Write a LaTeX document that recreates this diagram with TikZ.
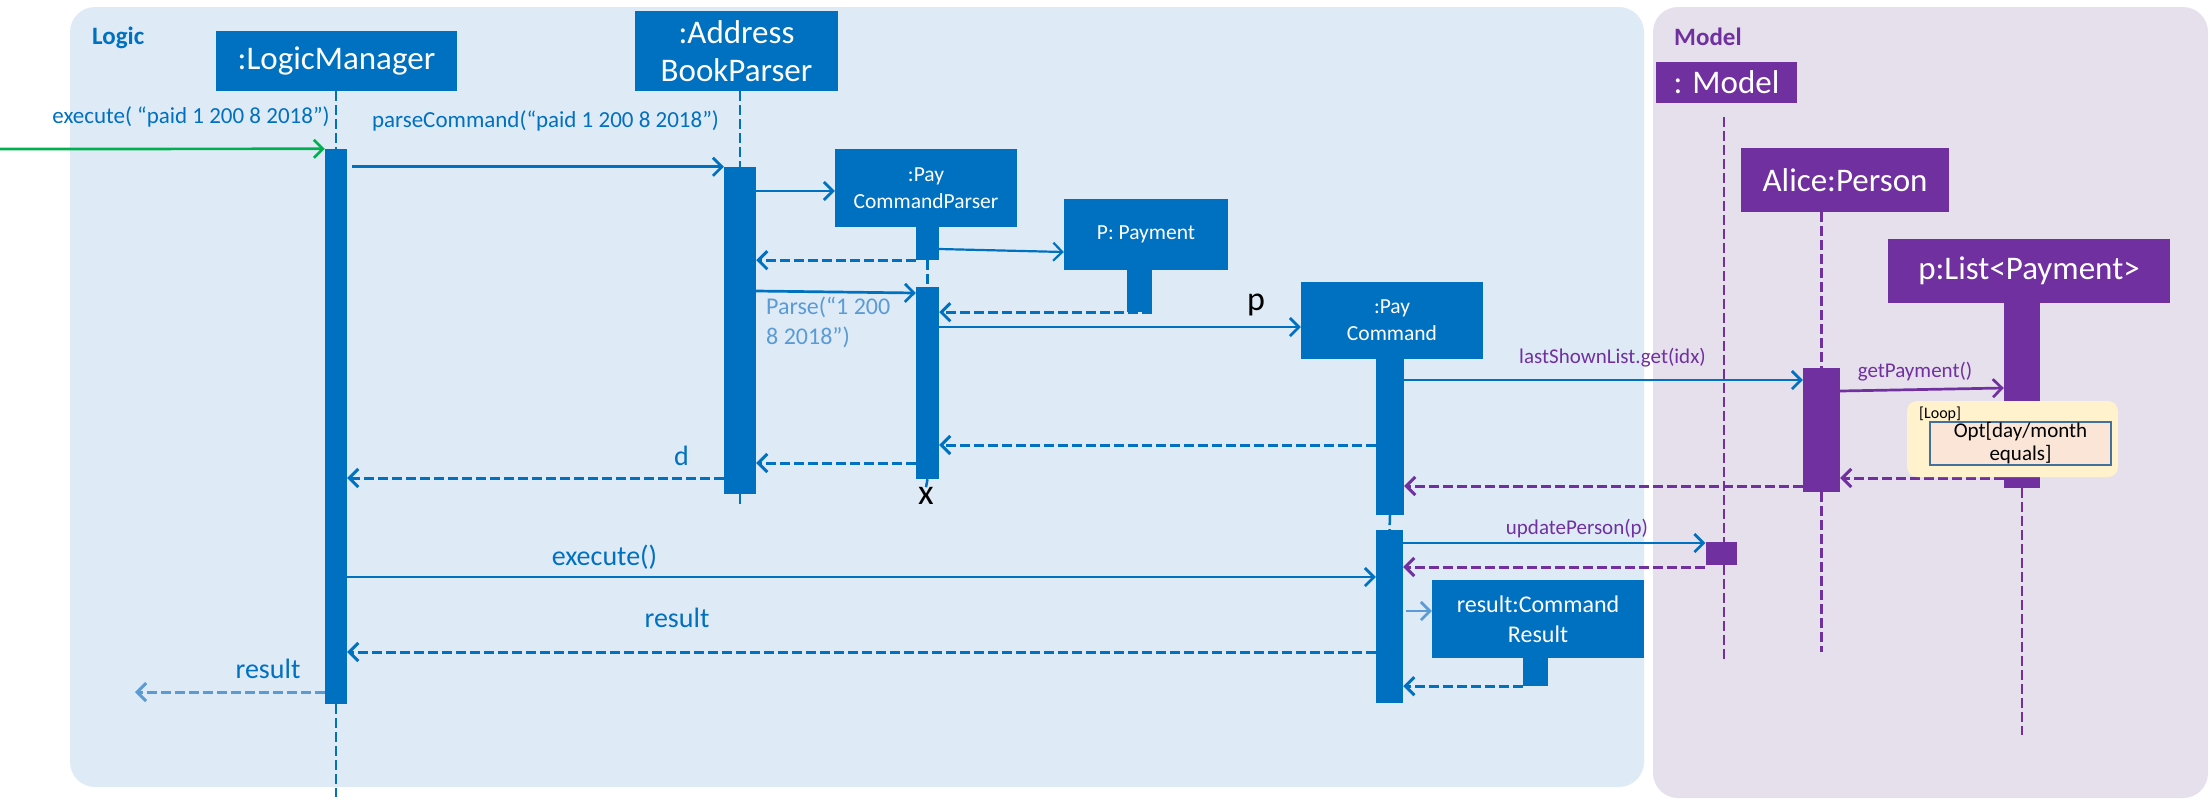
\documentclass[tikz,border=0pt]{standalone}
\usepackage{fontspec}
\setmainfont{Carlito}
\usetikzlibrary{arrows.meta}
\definecolor{ublue}{HTML}{0070C0}
\definecolor{upurple}{HTML}{7030A0}
\definecolor{lblue}{HTML}{5B9BD5}
\definecolor{logicbg}{HTML}{DEEBF7}
\definecolor{modelbg}{HTML}{E6E0EC}
\definecolor{ugreen}{HTML}{00B050}
\definecolor{loopbg}{HTML}{FFF2CC}
\definecolor{optbg}{HTML}{FBE5D6}
\definecolor{optborder}{HTML}{41719C}
\newcommand{\fsbig}{\fontsize{33}{38}\selectfont}
\newcommand{\fsmid}{\fontsize{21.5}{27}\selectfont}
\newcommand{\fsres}{\fontsize{24}{30}\selectfont}
\newcommand{\fslab}{\fontsize{23}{28}\selectfont}
\newcommand{\fsplab}{\fontsize{21}{25}\selectfont}
\newcommand{\fsret}{\fontsize{28}{32}\selectfont}
\tikzset{
 obj/.style={fill=ublue, text=white, inner sep=0pt, align=center},
 pobj/.style={obj, fill=upurple},
 actbar/.style={fill=ublue, inner sep=0pt},
 pactbar/.style={fill=upurple, inner sep=0pt},
 barb/.style={-{Straight Barb[length=9pt,width=18pt]}},
 msg/.style={draw=ublue, line width=2.7pt, barb},
 pmsg/.style={msg, draw=upurple},
 ret/.style={msg, dash pattern=on 10pt off 4pt, line width=3pt},
 pret/.style={ret, draw=upurple},
 life/.style={draw=ublue, line width=2.5pt, dash pattern=on 10pt off 4pt},
 plife/.style={life, draw=upurple},
 lbl/.style={inner sep=0pt, text=ublue},
 plbl/.style={inner sep=0pt, text=upurple, font=\fsplab},
}
\begin{document}
\begin{tikzpicture}[x=1pt,y=-1pt]
\useasboundingbox (0,0) rectangle (2210,801);
% backgrounds
\fill[logicbg, rounded corners=25pt] (70,7) rectangle (1644,787);
\fill[modelbg, rounded corners=25pt] (1653,7) rectangle (2208,798);
\node[lbl, anchor=west, font=\bfseries\fontsize{25}{30}\selectfont] (logiclbl) at (92,38) {Logic};
\node[lbl, text=upurple, anchor=west, font=\bfseries\fontsize{25}{30}\selectfont] (modellbl) at (1674,37) {Model};

% object boxes
\node[obj, minimum width=241pt, minimum height=60pt, font=\fsbig] (lm) at (336.5,61) {:LogicManager};
\node[obj, minimum width=203pt, minimum height=80pt, font=\fsbig] (abp) at (736.5,51) {:Address\\BookParser};
\node[obj, minimum width=182pt, minimum height=78pt, font=\fsmid] (pcp) at (926,188) {:Pay\\CommandParser};
\node[obj, minimum width=164pt, minimum height=71pt, font=\fsmid] (pay) at (1146,234.5) {P: Payment};
\node[obj, minimum width=182pt, minimum height=77pt, font=\fsmid] (pc) at (1392,320.5) {:Pay\\Command};
\node[obj, minimum width=212pt, minimum height=78pt, font=\fsres] (res) at (1538,619) {result:Command\\Result};
\node[pobj, minimum width=141pt, minimum height=41pt, font=\fsbig] (model) at (1726.5,82.5) {: Model};
\node[pobj, minimum width=208pt, minimum height=64pt, font=\fsbig] (alice) at (1845,180) {Alice:Person};
\node[pobj, minimum width=282pt, minimum height=64pt, font=\fsbig] (plist) at (2029,271) {p:List<Payment>};

% activation bars
\node[actbar, minimum width=22pt, minimum height=555pt] (lmbar) at (336,426.5) {};
\node[actbar, minimum width=32pt, minimum height=327pt] (abpbar) at (740,330.5) {};
\node[actbar, minimum width=23pt, minimum height=33pt] (pcpbar1) at (927.5,243.5) {};
\node[actbar, minimum width=23pt, minimum height=192pt] (pcpbar2) at (927.5,383) {};
\node[actbar, minimum width=25pt, minimum height=42pt] (paybar) at (1139.5,291) {};
\node[actbar, minimum width=28pt, minimum height=156pt] (pcbar1) at (1390,437) {};
\node[actbar, minimum width=27pt, minimum height=173pt] (pcbar2) at (1389.5,616.5) {};
\node[actbar, minimum width=25pt, minimum height=28pt] (resbar) at (1535.5,672) {};
\node[pactbar, minimum width=31pt, minimum height=23pt] (modelbar) at (1721,553.5) {};
\node[pactbar, minimum width=37pt, minimum height=124pt] (alicebar) at (1821.5,430) {};
\node[pactbar, minimum width=36pt, minimum height=185pt] (plistbar) at (2022,395.5) {};

% end marker and free ends
\node[inner sep=0pt, font=\fontsize{36}{40}\selectfont] (xend) at (926,496) {x};
\coordinate (lmend) at (336,797);
\coordinate (abpend) at (740,506);
\coordinate (mtop) at (1724,117);
\coordinate (mend) at (1724,663);
\coordinate (aend) at (1821.5,652);
\coordinate (plend) at (2022,735);
\coordinate (gstart) at (0,149);
\coordinate (rend) at (135,692);

% lifelines
\draw[life] (lm.south -| lmbar.north) -- (lmbar.north);
\draw[life] (lmbar.south) -- (lmend);
\draw[life] (abp.south -| abpbar.north) -- (abpbar.north);
\draw[life] (abpbar.south) -- (abpend);
\draw[life] (pcpbar1.south) -- (pcpbar2.north);
\draw[life] (pcpbar2.south) -- (xend.north);
\draw[life] (pcbar1.south) -- (pcbar2.north);
\draw[plife] (mtop) -- (modelbar.north -| mtop);
\draw[plife] (modelbar.south -| mtop) -- (mend);
\draw[plife] (alice.south -| alicebar.north) -- (alicebar.north);
\draw[plife] (alicebar.south) -- (aend);
\draw[plife] (plistbar.south) -- (plend);

% messages
\draw[msg, draw=ugreen] (gstart) -- (lmbar.north west);
\node[lbl, font=\fslab] (l1) at (191,117) {execute( “paid 1 200 8 2018”)};
\draw[msg, shorten <=5pt] (lmbar.east |- abpbar.north) -- (abpbar.north west);
\node[lbl, font=\fslab] (l2) at (545.5,121) {parseCommand(“paid 1 200 8 2018”)};
\draw[msg] (abpbar.east |- 0,191) -- (pcp.west |- 0,191);
\draw[msg, line width=2.2pt] (pcpbar1.east |- 0,249) -- (pay.west |- 0,252);
\draw[ret] (pcpbar1.south west) -- (abpbar.east |- pcpbar1.south);
\draw[msg] (abpbar.east |- 0,291) -- (pcpbar2.west |- 0,293);
\node[lbl, text=lblue, font=\fontsize{24}{30}\selectfont, anchor=west, align=left] (l3) at (766,322) {Parse(“1 200\\8 2018”)};
\draw[ret] (paybar.south east) -- (pcpbar2.east |- paybar.south);
\node[inner sep=0pt, font=\fontsize{34}{40}\selectfont] (lp) at (1256,305) {p};
\draw[msg] (pcpbar2.east |- 0,327) -- (pc.west |- 0,327);
\draw[ret] (pcbar1.west |- 0,445) -- (pcpbar2.east |- 0,445);
\draw[ret] (pcpbar2.west |- 0,463) -- (abpbar.east |- 0,463);
\draw[ret] (abpbar.west |- 0,478) -- (lmbar.east |- 0,478);
\node[lbl, font=\fsret] (ld) at (681.5,456) {d};
\draw[msg] (pcbar1.east |- 0,380) -- (alicebar.west |- 0,380);
\node[plbl] (l4) at (1612.5,358) {lastShownList.get(idx)};
\draw[pmsg] (alicebar.east |- 0,391) -- (plistbar.west |- 0,388);
\node[plbl] (l5) at (1915,372) {getPayment()};
\draw[pret] (plistbar.west |- 0,478) -- (alicebar.east |- 0,478);
\draw[pret] (alicebar.west |- 0,486) -- (pcbar1.east |- 0,486);
\draw[msg] (pcbar2.east |- 0,543) -- (modelbar.west |- 0,543);
\node[plbl] (l6) at (1577,529) {updatePerson(p)};
\draw[pret] (modelbar.west |- 0,567) -- (pcbar2.east |- 0,567);
\draw[msg] (lmbar.east |- 0,577) -- (pcbar2.west |- 0,577);
\node[lbl, font=\fsret] (l7) at (604.5,557) {execute()};
\draw[msg, draw=lblue, shorten <=3pt] (pcbar2.east |- 0,611) -- (res.west |- 0,611);
\draw[ret] (pcbar2.west |- 0,652) -- (lmbar.east |- 0,652);
\node[lbl, font=\fsret] (l8) at (677,618) {result};
\draw[ret] (resbar.south west) -- (pcbar2.east |- resbar.south);
\draw[ret, draw=lblue] (lmbar.west |- 0,692) -- (rend);
\node[lbl, font=\fsret] (l9) at (268,669) {result};

% loop fragment
\node[fill=loopbg, rounded corners=10pt, minimum width=211pt, minimum height=76pt, inner sep=0pt] (loop) at (2012.5,439) {};
\node[inner sep=0pt, anchor=west, font=\fontsize{16}{18}\selectfont] (looplbl) at (1919,414) {[Loop]};
\node[fill=optbg, draw=optborder, line width=2pt, minimum width=181pt, minimum height=43pt, inner sep=0pt, align=center, font=\fontsize{21}{23}\selectfont] (opt) at (2020.5,443.5) {Opt[day/month\\equals]};
\end{tikzpicture}
\end{document}
